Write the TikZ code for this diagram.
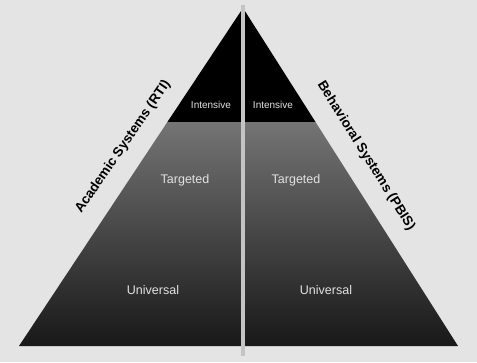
\documentclass[tikz,border=0pt]{standalone}
\usepackage{fontspec}
\setmainfont{Liberation Sans}
\definecolor{bgray}{HTML}{E4E4E4}
\definecolor{midtop}{HTML}{747474}
\definecolor{midbot}{HTML}{181818}
\definecolor{linegray}{HTML}{C4C4C4}
\definecolor{tiertext}{HTML}{E2E2E2}
\begin{document}
\begin{tikzpicture}[x=1pt,y=1pt,
  tierlabel/.style={text=tiertext, inner sep=0pt},
  sidelabel/.style={text=black, font=\bfseries\fontsize{13.5}{14}\selectfont, inner sep=0pt}]
\fill[bgray] (0,0) rectangle (477,362);
\useasboundingbox (0,0) rectangle (477,362);
% pyramid corners (y measured upward from bottom)
\coordinate (apex) at (243,354);
\coordinate (bl) at (19,16);
\coordinate (br) at (458,16);
\coordinate (tl) at (167.4,240);
\coordinate (tr) at (315.5,240);
% lower tiers (targeted + universal)
\shade[top color=midtop, bottom color=midbot] (tl) -- (tr) -- (br) -- (bl) -- cycle;
% top tier (intensive)
\fill[black] (apex) -- (tr) -- (tl) -- cycle;
% divider
\coordinate (dtop) at (243,357);
\coordinate (dbot) at (243,6);
\draw[linegray, line width=4pt] (dtop) -- (dbot);
% tier labels
\node[tierlabel, font=\fontsize{10}{10}\selectfont] (intl) at (211,257) {Intensive};
\node[tierlabel, font=\fontsize{10}{10}\selectfont] (intr) at (273,257) {Intensive};
\node[tierlabel, font=\fontsize{12.5}{13}\selectfont] (tarl) at (185,182) {Targeted};
\node[tierlabel, font=\fontsize{12.5}{13}\selectfont] (tarr) at (296,182) {Targeted};
\node[tierlabel, font=\fontsize{12.5}{13}\selectfont] (unil) at (153,72) {Universal};
\node[tierlabel, font=\fontsize{12.5}{13}\selectfont] (unir) at (326,72) {Universal};
% side labels
\node[sidelabel, rotate=55.5] (acad) at (123,215) {Academic Systems (RTI)};
\node[sidelabel, rotate=-58] (behav) at (366,206) {Behavioral Systems (PBIS)};
\end{tikzpicture}
\end{document}
